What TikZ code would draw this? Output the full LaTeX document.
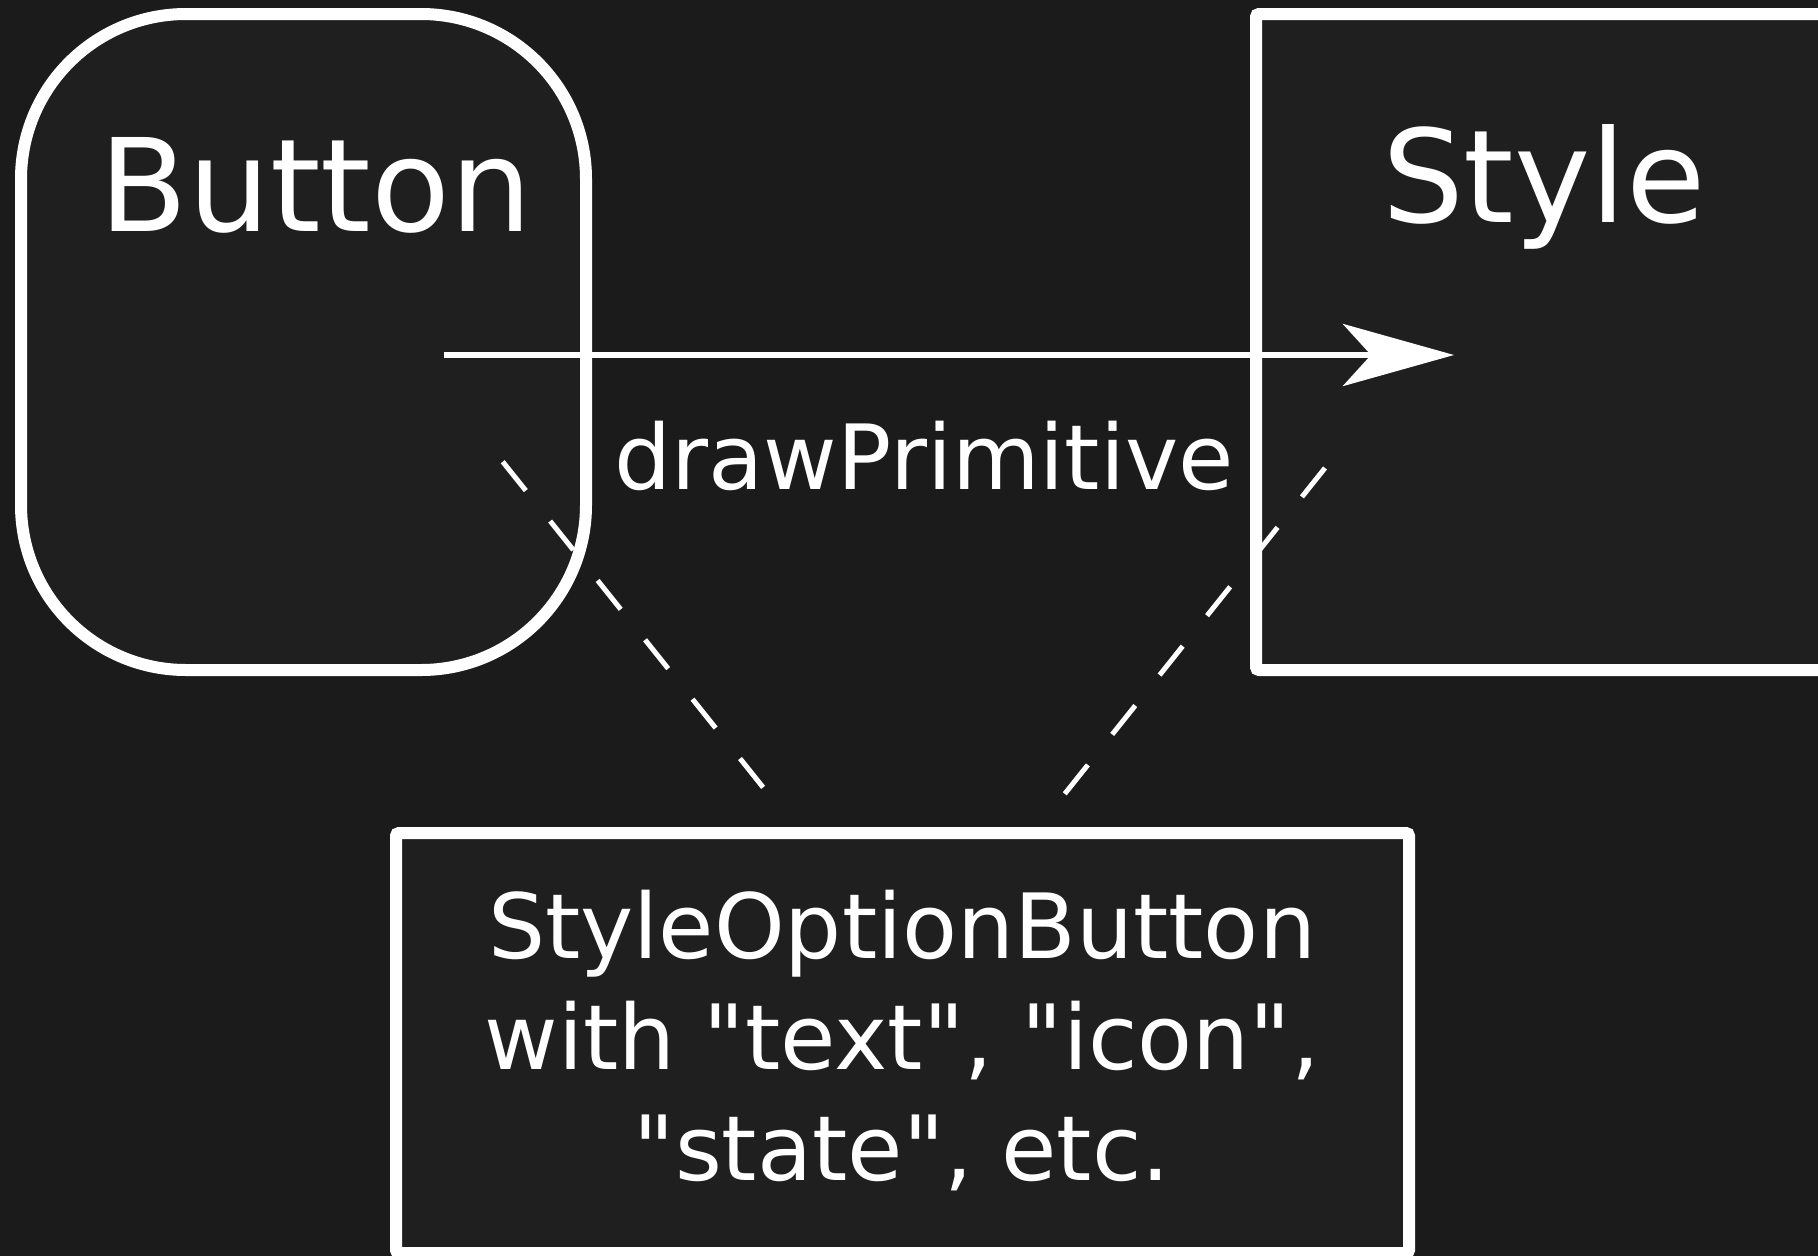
\documentclass[tikz,border=0pt]{standalone}
\usepackage{fontspec}
\setmainfont{DejaVu Sans}
\usetikzlibrary{arrows.meta}
\definecolor{bgcol}{HTML}{1B1B1B}
\definecolor{boxcol}{HTML}{1F1F1F}

\begin{document}
\begin{tikzpicture}[x=1pt, y=-1pt,
    box/.style={draw=white, fill=boxcol, line width=12pt, inner sep=0pt},
    big/.style={text=white, inner sep=0pt, font=\fontsize{129}{150}\selectfont},
    small/.style={text=white, inner sep=0pt, font=\fontsize{90}{111}\selectfont},
    dashline/.style={draw=white, line width=5pt, dash pattern=on 37pt off 39pt}]

\fill[bgcol] (0,0) rectangle (1818,1256);
\useasboundingbox (0,0) rectangle (1818,1256);

\node[box, rounded corners=165pt, minimum width=565pt, minimum height=656pt]
    (11) at (303.5,342) {};
\node[box, rounded corners=3pt, minimum width=574pt, minimum height=656pt]
    (21) at (1543,342) {};
\node[box, rounded corners=3pt, minimum width=1013pt, minimum height=420pt]
    (31) at (902.5,1043) {};

\node[big, anchor=base] (b1) at (316,231) {Button};
\node[big, anchor=base] (s1) at (1544,222) {Style};
\node[small, anchor=base] (p1) at (924,489) {drawPrimitive};
\node[small, anchor=base, align=center] (o1) at (902,1180)
    {StyleOptionButton\\with \textquotedbl text\textquotedbl,
     \textquotedbl icon\textquotedbl,\\\textquotedbl state\textquotedbl, etc.};

\coordinate (13) at (502.7,461.7);
\coordinate (14) at (763.6,788);
\coordinate (23) at (1325,468);
\coordinate (24) at (1063,796);

\draw[dashline] (13) -- (14);
\draw[dashline] (23) -- (24);

\coordinate (12) at (444,355);
\coordinate (22) at (1454,355);
\draw[white, line width=6.5pt, -{Stealth[length=111pt, width=62pt, inset=28pt]}]
    (12) -- (22);

\end{tikzpicture}
\end{document}
